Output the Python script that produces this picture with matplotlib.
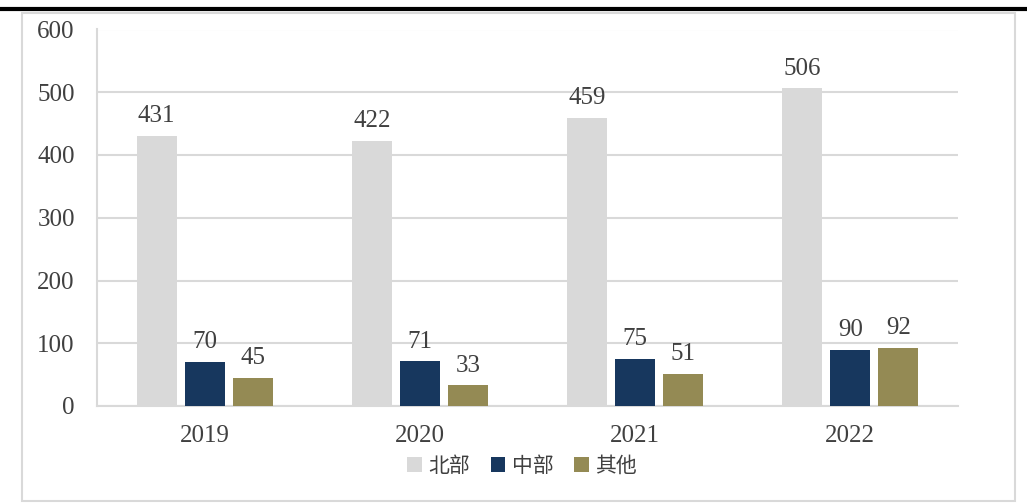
import numpy as np
import matplotlib.pyplot as plt
from matplotlib.patches import Rectangle
from matplotlib.lines import Line2D

years = ['2019', '2020', '2021', '2022']
series = ['北部', '中部', '其他']
north = [431, 422, 459, 506]
central = [70, 71, 75, 90]
other = [45, 33, 51, 92]
colors = ['#d9d9d9', '#17375e', '#948a54']

W, H = 1027, 503
fig = plt.figure(figsize=(W / 100, H / 100), dpi=100)
ax = fig.add_axes([97 / W, 1 - 406 / H, (958 - 97) / W, (406 - 29.5) / H])

x = np.arange(len(years))
width = 0.186
step = 0.223
num_font = 'Liberation Serif'
txt_color = '#404040'

for i, (vals, name) in enumerate(zip([north, central, other], series)):
    pos = x + (i - 1) * step
    bars = ax.bar(pos, vals, width, color=colors[i], label=name, zorder=3)
    for b, v in zip(bars, vals):
        ax.text(b.get_x() + b.get_width() / 2, v + 14, str(v), ha='center', va='bottom',
                fontsize=18, family=num_font, color=txt_color)

ax.set_xlim(-0.5, 3.5)
ax.set_ylim(0, 600)
ax.set_yticks(range(0, 601, 100))
ax.set_xticks(x)
ax.set_xticklabels(years)
for lab in ax.get_xticklabels() + ax.get_yticklabels():
    lab.set_family(num_font)
    lab.set_fontsize(18)
    lab.set_color(txt_color)
ax.tick_params(length=0)
ax.tick_params(axis='y', pad=16)
ax.tick_params(axis='x', pad=14)
ax.grid(axis='y', color='#d9d9d9', lw=1.5, zorder=0)
for s in ['top', 'right']:
    ax.spines[s].set_visible(False)
for s in ['left', 'bottom']:
    ax.spines[s].set_color('#d9d9d9')
    ax.spines[s].set_linewidth(1.5)

leg = fig.legend(loc='center', bbox_to_anchor=(522 / W, 1 - 466 / H), ncol=3, frameon=False,
                 prop={'family': ['Noto Sans CJK SC'], 'size': 15},
                 handlelength=0.7, handleheight=0.7, handletextpad=0.3, columnspacing=1.0)
for t in leg.get_texts():
    t.set_color(txt_color)

fig.add_artist(Rectangle((22 / W, 1 - 501 / H), (1015 - 22) / W, (501 - 13) / H,
                         transform=fig.transFigure, fill=False, edgecolor='#d9d9d9', lw=1.5))
fig.add_artist(Line2D([0, 1], [1 - 8.5 / H, 1 - 8.5 / H], transform=fig.transFigure,
                      color='black', lw=3))

fig.savefig('out.png', dpi=100)
